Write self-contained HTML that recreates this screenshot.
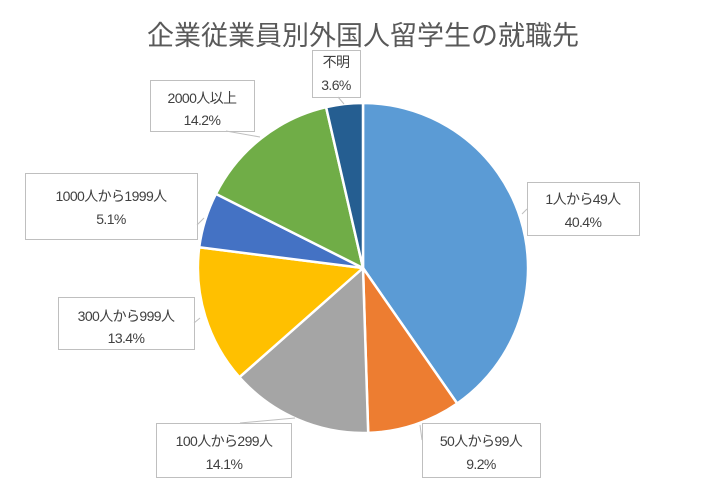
<!DOCTYPE html>
<html><head><meta charset="utf-8"><style>
body{margin:0;background:#fff;width:703px;height:480px;overflow:hidden}
svg text{font-family:"Liberation Sans","Noto Sans CJK JP",sans-serif}
</style></head><body>
<svg width="703" height="480" viewBox="0 0 703 480">
<text x="363" y="45" text-anchor="middle" font-size="27" fill="#595959">企業従業員別外国人留学生の就職先</text>
<g stroke="#fff" stroke-width="2.5" stroke-linejoin="round">
<path d="M363,268 L363,103 A165,165 0 0 1 457.2,403.5 Z" fill="#5b9bd5"/>
<path d="M363,268 L457.2,403.5 A165,165 0 0 1 368.2,432.9 Z" fill="#ed7d31"/>
<path d="M363,268 L368.2,432.9 A165,165 0 0 1 239.4,377.2 Z" fill="#a5a5a5"/>
<path d="M363,268 L239.4,377.2 A165,165 0 0 1 199.2,247.3 Z" fill="#ffc000"/>
<path d="M363,268 L199.2,247.3 A165,165 0 0 1 215.9,193.9 Z" fill="#4472c4"/>
<path d="M363,268 L215.9,193.9 A165,165 0 0 1 326.1,107.2 Z" fill="#70ad47"/>
<path d="M363,268 L326.1,107.2 A165,165 0 0 1 363,103 Z" fill="#255e91"/>
</g>
<g fill="#fff" stroke="#bfbfbf" stroke-width="1">
<rect x="312.5" y="50.5" width="48" height="47"/>
<rect x="150.5" y="80.5" width="104" height="51"/>
<rect x="25.5" y="173.5" width="172" height="66"/>
<rect x="527.5" y="182.5" width="112" height="53"/>
<rect x="58.5" y="297.5" width="136" height="52"/>
<rect x="156.5" y="423.5" width="135" height="54"/>
<rect x="422.5" y="423.5" width="118" height="54"/>
</g>
<g stroke="#bfbfbf" fill="none">
<path d="M226,131 L260,137"/><path d="M338,97 L344,104"/>
<path d="M197,225 L204,218"/><path d="M527,209 L522,214"/>
<path d="M194,323 L200,318"/><path d="M240,423 L295,418"/>
<path d="M422,440 L420,425"/>
</g>
<g font-size="14" fill="#404040" text-anchor="middle" letter-spacing="-0.6">
<text x="336" y="67">不明</text><text x="336" y="90">3.6%</text>
<text x="202" y="103">2000人以上</text><text x="202" y="125">14.2%</text>
<text x="111" y="201">1000人から1999人</text><text x="111" y="224">5.1%</text>
<text x="583" y="204">1人から49人</text><text x="583" y="227">40.4%</text>
<text x="126" y="321">300人から999人</text><text x="126" y="343">13.4%</text>
<text x="224" y="446">100人から299人</text><text x="224" y="469">14.1%</text>
<text x="481" y="446">50人から99人</text><text x="481" y="469">9.2%</text>
</g>
</svg>
</body></html>
